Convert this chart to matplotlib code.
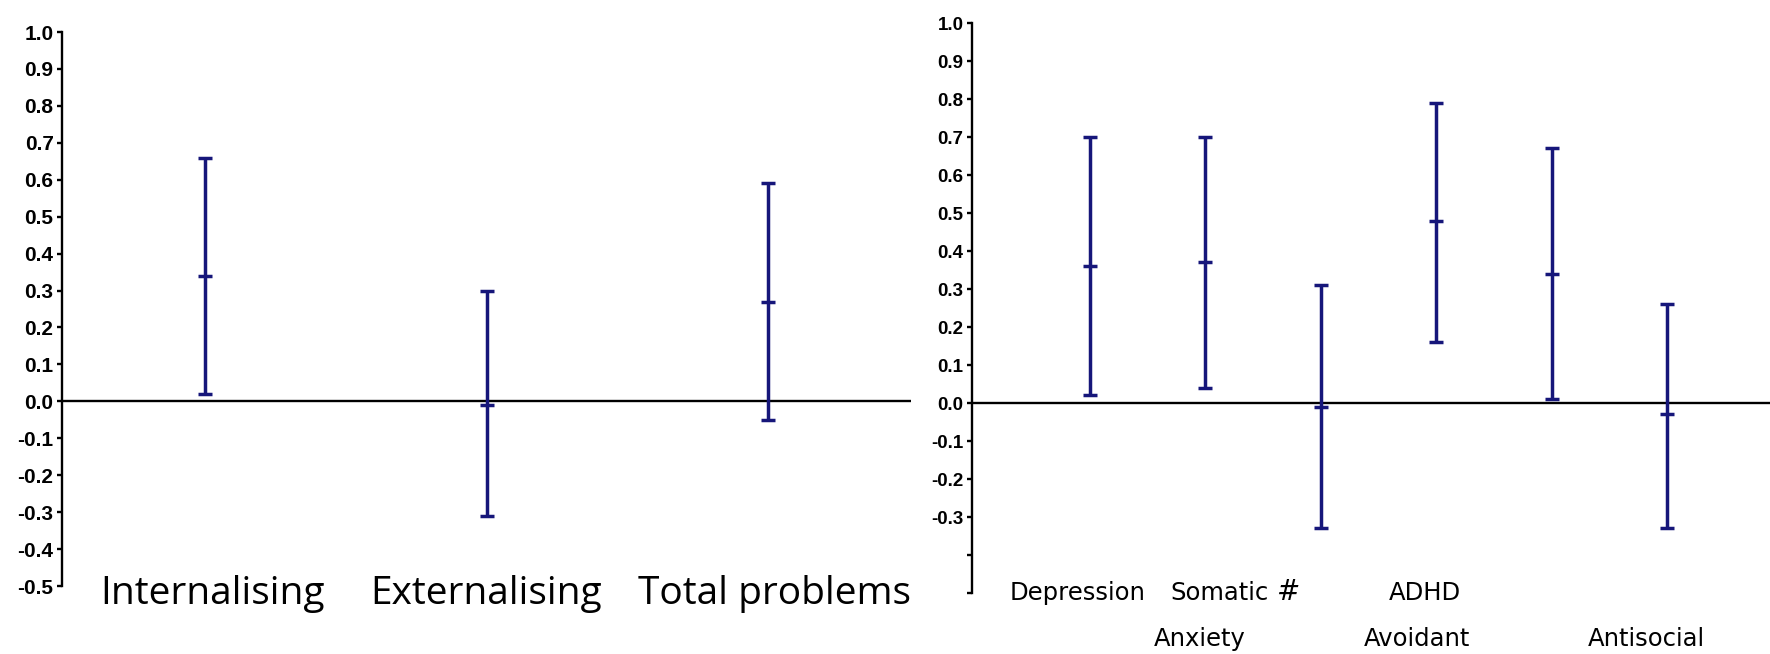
# -*- coding: utf-8 -*-

import numpy as np
import matplotlib
matplotlib.use('Agg')
import matplotlib.pyplot as plt

# --- Data ---
left_cats = ['Internalising', 'Externalising', 'Total problems']
left_mean = [0.34, -0.01, 0.27]
left_low = [0.02, -0.31, -0.05]
left_high = [0.66, 0.30, 0.59]

right_cats = ['Depression', 'Anxiety', 'Somatic', 'Avoidant', 'ADHD', 'Antisocial']
right_mean = [0.36, 0.37, -0.01, 0.48, 0.34, -0.03]
right_low = [0.02, 0.04, -0.33, 0.16, 0.01, -0.33]
right_high = [0.70, 0.70, 0.31, 0.79, 0.67, 0.26]

yticks = np.round(np.arange(-0.5, 1.01, 0.1), 1)

W, H = 1770, 654
NAVY = '#16167a'


def px(x, y):
    """pixel position (from top-left) -> figure fraction"""
    return x / W, 1 - y / H


def draw_panel(ax, cats, mean, low, high, xlim, label_size, hide_below=None):
    x = np.arange(len(cats))
    mean = np.array(mean)
    yerr = [mean - np.array(low), np.array(high) - mean]
    ax.errorbar(x, mean, yerr=yerr, fmt='_', color=NAVY, ecolor=NAVY,
                elinewidth=2.5, capsize=5, capthick=2.5,
                markersize=10, markeredgewidth=2.5, zorder=3)
    ax.axhline(0, color='black', lw=1.7, zorder=2)
    ax.set_xlim(*xlim)
    ax.set_ylim(-0.5, 1.0)
    ax.set_yticks(yticks)
    labels = [f'{abs(v) if v == 0 else v:.1f}' for v in yticks]
    if hide_below is not None:
        labels = [l if v > hide_below else '' for l, v in zip(labels, yticks)]
    ax.set_yticklabels(labels, fontsize=label_size, fontweight='bold',
                       family='Liberation Sans')
    ax.set_xticks([])
    for s in ['top', 'right', 'bottom']:
        ax.spines[s].set_visible(False)
    ax.spines['left'].set_linewidth(1.7)
    ax.tick_params(axis='y', length=3.6, width=1.7, pad=2.5)
    ax.patch.set_alpha(0)


fig = plt.figure(figsize=(W / 100, H / 100), dpi=100)

x0, y0 = px(62, 586)
x1, y1 = px(911, 32)
ax1 = fig.add_axes([x0, y0, x1 - x0, y1 - y0])
draw_panel(ax1, left_cats, left_mean, left_low, left_high, (-0.51, 2.51), 15)

x0, y0 = px(972, 593)
x1, y1 = px(1770, 23)
ax2 = fig.add_axes([x0, y0, x1 - x0, y1 - y0])
draw_panel(ax2, right_cats, right_mean, right_low, right_high, (-1.02, 5.89), 13.5,
           hide_below=-0.35)

# category labels (pasted under the panels in the original)
left_pos = [212, 486, 775]
for name, cx in zip(left_cats, left_pos):
    fig.text(*px(cx, 604), name, ha='center', va='baseline', fontsize=28,
             family='Open Sans')

narrow = 'Liberation Sans Narrow'
fig.text(*px(1078, 600), 'Depression', ha='center', va='baseline',
         fontsize=17.5, family=narrow)
fig.text(*px(1170, 600), 'Somatic', ha='left', va='baseline',
         fontsize=17.5, family=narrow)
fig.text(*px(1276, 600), '#', ha='left', va='baseline', fontsize=20,
         family='DejaVu Sans', style='italic', fontweight='light')
fig.text(*px(1425, 600), 'ADHD', ha='center', va='baseline',
         fontsize=17.5, family=narrow)
for name, cx in [('Anxiety', 1200), ('Avoidant', 1417), ('Antisocial', 1646)]:
    fig.text(*px(cx, 646), name, ha='center', va='baseline', fontsize=17.5,
             family=narrow)

fig.savefig('out.png', dpi=100, facecolor='white')
